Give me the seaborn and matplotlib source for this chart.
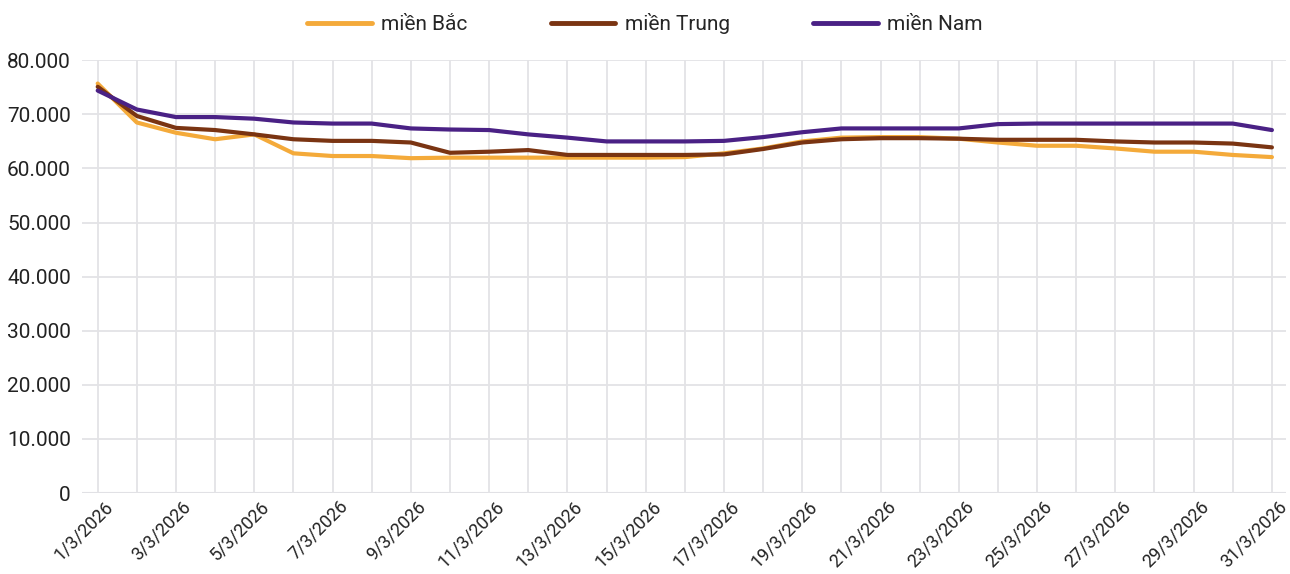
import matplotlib
matplotlib.use("Agg")
import matplotlib.pyplot as plt
import matplotlib.transforms as mtransforms
import pandas as pd
import seaborn as sns

days = list(range(1, 32))
dates = [f"{d}/3/2026" for d in days]

mien_bac = [75.7, 68.5, 66.6, 65.4, 66.3, 62.8, 62.3, 62.3, 61.9, 62.0,
            62.0, 62.0, 62.0, 62.0, 62.0, 62.1, 62.8, 63.7, 65.0, 65.7,
            65.8, 65.8, 65.5, 64.8, 64.2, 64.2, 63.7, 63.1, 63.1, 62.5, 62.1]
mien_trung = [75.1, 69.7, 67.5, 67.1, 66.3, 65.4, 65.1, 65.1, 64.8, 62.9,
              63.1, 63.4, 62.5, 62.5, 62.5, 62.5, 62.6, 63.6, 64.8, 65.4,
              65.6, 65.6, 65.5, 65.3, 65.3, 65.3, 65.0, 64.8, 64.8, 64.6, 63.9]
mien_nam = [74.4, 70.9, 69.5, 69.5, 69.2, 68.5, 68.3, 68.3, 67.4, 67.2,
            67.1, 66.3, 65.7, 65.0, 65.0, 65.0, 65.1, 65.8, 66.7, 67.4,
            67.4, 67.4, 67.4, 68.2, 68.3, 68.3, 68.3, 68.3, 68.3, 68.3, 67.1]

series = ["miền Bắc", "miền Trung", "miền Nam"]
colors = ["#F4AA3A", "#7A3412", "#4A2185"]

df = pd.DataFrame({
    "day": days * 3,
    "value": [v * 1000 for v in mien_bac + mien_trung + mien_nam],
    "vung": [series[0]] * 31 + [series[1]] * 31 + [series[2]] * 31,
})

sns.set_style("white")
plt.rcParams["font.family"] = ["Roboto", "DejaVu Sans"]

fig = plt.figure(figsize=(12.9, 5.74), dpi=100)
ax = fig.add_axes([0.0636, 0.141, 0.933, 0.754])

sns.lineplot(data=df, x="day", y="value", hue="vung", palette=colors,
             hue_order=series, linewidth=3, ax=ax, legend=False)

ax.set_xlim(0.6, 31.35)
ax.set_ylim(0, 80000)
ax.set_yticks(range(0, 80001, 10000))
ax.set_yticklabels(["0"] + [f"{v // 1000}.000" for v in range(10000, 80001, 10000)],
                   fontsize=15, color="#222222")
ax.set_xticks(days, minor=True)
ax.set_xticks(days[::2])
ax.set_xticklabels(dates[::2], rotation=45, ha="right", rotation_mode="anchor",
                   fontsize=13, color="#222222")
ax.tick_params(axis="both", which="both", length=0)
ax.tick_params(axis="x", pad=3)
ax.tick_params(axis="y", pad=8)
# shift the rotated date labels a bit to the right, like the original
shift = mtransforms.ScaledTranslation(0.06, 0, fig.dpi_scale_trans)
for lab in ax.get_xticklabels():
    lab.set_transform(lab.get_transform() + shift)
ax.grid(True, which="both", color="#e3e3e6", linewidth=1.3)
ax.set_axisbelow(True)
for s in ax.spines.values():
    s.set_visible(False)
ax.axhline(0, color="#d8d8dc", linewidth=1.5, zorder=0)
ax.set_xlabel("")
ax.set_ylabel("")

handles = [plt.Line2D([], [], color=c, linewidth=3.5) for c in colors]
fig.legend(handles, series, loc="upper center", bbox_to_anchor=(0.5, 1.01),
           ncol=3, frameon=False, fontsize=15, handlelength=3.1,
           columnspacing=4.0, handletextpad=0.45)

fig.savefig("out.png", dpi=100)
